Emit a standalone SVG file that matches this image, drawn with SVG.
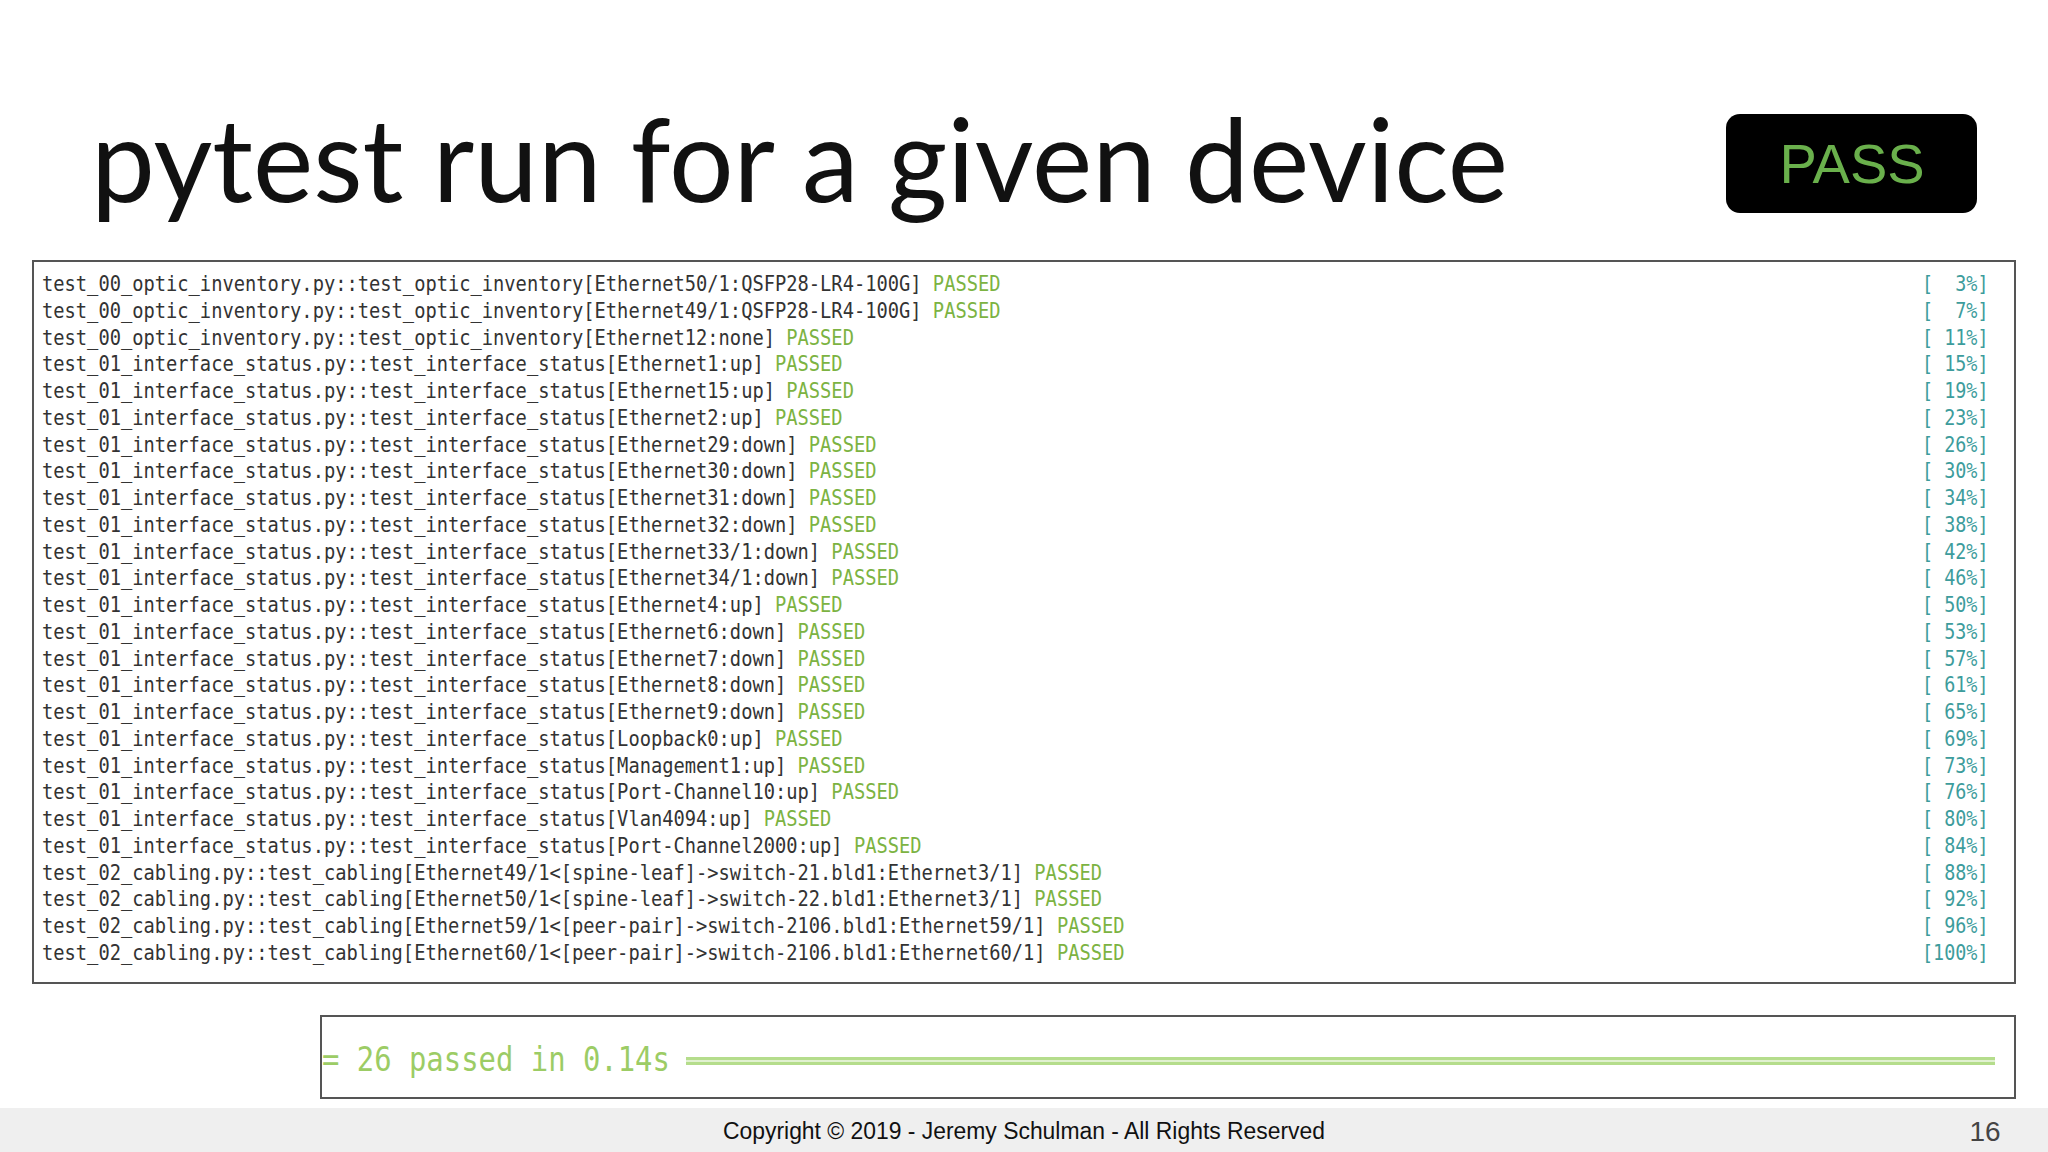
<svg xmlns="http://www.w3.org/2000/svg" width="2048" height="1152" viewBox="0 0 2048 1152">
<style>
.t{font-family:"DejaVu Sans Mono",monospace;font-size:22px;fill:#333}
.p{fill:#7cb342}
.c{fill:#3d9c9c}
</style>
<rect width="2048" height="1152" fill="#fff"/>
<g id="title"><text x="91" y="202" font-family="Lato, 'Noto Sans', sans-serif" font-size="116" fill="#111" textLength="1417" lengthAdjust="spacingAndGlyphs">pytest run for a given device</text></g>
<g id="pass"><rect x="1726" y="114" width="251" height="99" rx="14" fill="#000"/><text x="1852" y="183" text-anchor="middle" font-family="Liberation Sans, Arial, sans-serif" font-size="56" fill="#6ab04c">PASS</text></g>
<g id="terminal">
<rect x="33" y="261" width="1982" height="722" fill="#fff" stroke="#555" stroke-width="2"/>
<g transform="translate(42,0) scale(0.852,1)" class="t">
<text y="291">test_00_optic_inventory.py::test_optic_inventory[Ethernet50/1:QSFP28-LR4-100G] <tspan class="p">PASSED</tspan></text>
<text y="318">test_00_optic_inventory.py::test_optic_inventory[Ethernet49/1:QSFP28-LR4-100G] <tspan class="p">PASSED</tspan></text>
<text y="345">test_00_optic_inventory.py::test_optic_inventory[Ethernet12:none] <tspan class="p">PASSED</tspan></text>
<text y="371">test_01_interface_status.py::test_interface_status[Ethernet1:up] <tspan class="p">PASSED</tspan></text>
<text y="398">test_01_interface_status.py::test_interface_status[Ethernet15:up] <tspan class="p">PASSED</tspan></text>
<text y="425">test_01_interface_status.py::test_interface_status[Ethernet2:up] <tspan class="p">PASSED</tspan></text>
<text y="452">test_01_interface_status.py::test_interface_status[Ethernet29:down] <tspan class="p">PASSED</tspan></text>
<text y="478">test_01_interface_status.py::test_interface_status[Ethernet30:down] <tspan class="p">PASSED</tspan></text>
<text y="505">test_01_interface_status.py::test_interface_status[Ethernet31:down] <tspan class="p">PASSED</tspan></text>
<text y="532">test_01_interface_status.py::test_interface_status[Ethernet32:down] <tspan class="p">PASSED</tspan></text>
<text y="559">test_01_interface_status.py::test_interface_status[Ethernet33/1:down] <tspan class="p">PASSED</tspan></text>
<text y="585">test_01_interface_status.py::test_interface_status[Ethernet34/1:down] <tspan class="p">PASSED</tspan></text>
<text y="612">test_01_interface_status.py::test_interface_status[Ethernet4:up] <tspan class="p">PASSED</tspan></text>
<text y="639">test_01_interface_status.py::test_interface_status[Ethernet6:down] <tspan class="p">PASSED</tspan></text>
<text y="666">test_01_interface_status.py::test_interface_status[Ethernet7:down] <tspan class="p">PASSED</tspan></text>
<text y="692">test_01_interface_status.py::test_interface_status[Ethernet8:down] <tspan class="p">PASSED</tspan></text>
<text y="719">test_01_interface_status.py::test_interface_status[Ethernet9:down] <tspan class="p">PASSED</tspan></text>
<text y="746">test_01_interface_status.py::test_interface_status[Loopback0:up] <tspan class="p">PASSED</tspan></text>
<text y="773">test_01_interface_status.py::test_interface_status[Management1:up] <tspan class="p">PASSED</tspan></text>
<text y="799">test_01_interface_status.py::test_interface_status[Port-Channel10:up] <tspan class="p">PASSED</tspan></text>
<text y="826">test_01_interface_status.py::test_interface_status[Vlan4094:up] <tspan class="p">PASSED</tspan></text>
<text y="853">test_01_interface_status.py::test_interface_status[Port-Channel2000:up] <tspan class="p">PASSED</tspan></text>
<text y="880">test_02_cabling.py::test_cabling[Ethernet49/1&lt;[spine-leaf]-&gt;switch-21.bld1:Ethernet3/1] <tspan class="p">PASSED</tspan></text>
<text y="906">test_02_cabling.py::test_cabling[Ethernet50/1&lt;[spine-leaf]-&gt;switch-22.bld1:Ethernet3/1] <tspan class="p">PASSED</tspan></text>
<text y="933">test_02_cabling.py::test_cabling[Ethernet59/1&lt;[peer-pair]-&gt;switch-2106.bld1:Ethernet59/1] <tspan class="p">PASSED</tspan></text>
<text y="960">test_02_cabling.py::test_cabling[Ethernet60/1&lt;[peer-pair]-&gt;switch-2106.bld1:Ethernet60/1] <tspan class="p">PASSED</tspan></text>
</g>
<g transform="translate(1922,0) scale(0.838,1)" class="t c">
<text y="291">[&#160;&#160;3%]</text><text y="318">[&#160;&#160;7%]</text><text y="345">[&#160;11%]</text><text y="371">[&#160;15%]</text><text y="398">[&#160;19%]</text><text y="425">[&#160;23%]</text><text y="452">[&#160;26%]</text><text y="478">[&#160;30%]</text><text y="505">[&#160;34%]</text><text y="532">[&#160;38%]</text><text y="559">[&#160;42%]</text><text y="585">[&#160;46%]</text><text y="612">[&#160;50%]</text><text y="639">[&#160;53%]</text><text y="666">[&#160;57%]</text><text y="692">[&#160;61%]</text><text y="719">[&#160;65%]</text><text y="746">[&#160;69%]</text><text y="773">[&#160;73%]</text><text y="799">[&#160;76%]</text><text y="826">[&#160;80%]</text><text y="853">[&#160;84%]</text><text y="880">[&#160;88%]</text><text y="906">[&#160;92%]</text><text y="933">[&#160;96%]</text><text y="960">[100%]</text>
</g>
</g>
<g id="summary">
<rect x="321" y="1016" width="1694" height="82" fill="#fff" stroke="#555" stroke-width="2"/>
<text x="322" y="1071" font-family="DejaVu Sans Mono, monospace" font-size="34" fill="#9ccc65" transform="translate(322,0) scale(0.85,1) translate(-322,0)">= 26 passed in 0.14s</text>
<rect x="686" y="1057" width="1309" height="8" fill="#b5dd8c"/>
<rect x="686" y="1060" width="1309" height="2" fill="#fff" opacity="0.6"/>
</g>
<g id="footer">
<rect x="0" y="1108" width="2048" height="44" fill="#efefef"/>
<text x="1024" y="1139" text-anchor="middle" font-family="Liberation Sans, Arial, sans-serif" font-size="23" fill="#111" textLength="602" lengthAdjust="spacingAndGlyphs">Copyright © 2019 - Jeremy Schulman - All Rights Reserved</text>
<text x="1985" y="1141" text-anchor="middle" font-family="Liberation Sans, Arial, sans-serif" font-size="28" fill="#444">16</text>
</g>
</svg>
